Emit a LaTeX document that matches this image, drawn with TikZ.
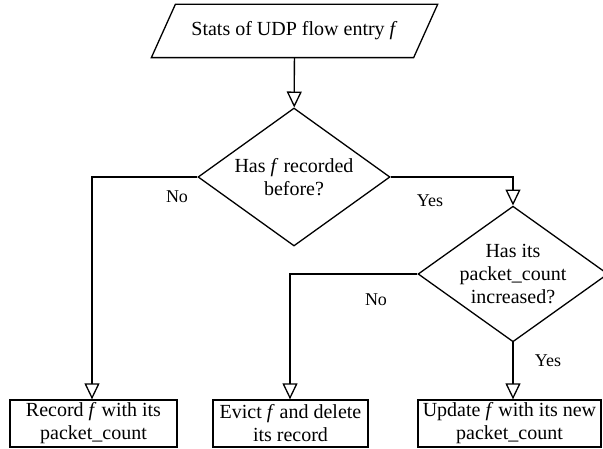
\documentclass[tikz,border=0pt]{standalone}
\usepackage{fontspec}
\setmainfont{Liberation Serif}
\usetikzlibrary{arrows.meta,shapes.geometric}

\tikzset{
  flowbox/.style={draw, line width=1.3pt, fill=white, align=center, inner sep=0pt},
  decision/.style={flowbox, diamond, aspect=1.4},
  answer/.style={font=\fontsize{18}{21}\selectfont, inner sep=0pt}
}

\begin{document}
\begin{tikzpicture}[ >={Triangle[open, length=16pt, width=15pt]}, x=1pt, y=-1pt,
  font=\fontsize{20}{23}\selectfont, line width=1.3pt ]

\useasboundingbox (0,0) rectangle (603,449);

% input (parallelogram drawn round the text node)
\node[inner sep=0pt, minimum width=261pt, minimum height=52pt] (stats) at (294.5,31)
  {Stats of UDP flow entry \textit{f}};
\draw ([xshift=-12pt]stats.south west) -- ([xshift=12pt]stats.north west)
  -- ([xshift=12pt]stats.north east) -- ([xshift=-12pt]stats.south east) -- cycle;

% decisions
\node[decision, minimum width=192pt, minimum height=138pt] (recorded) at (294,177)
  {Has \textit{f} recorded\\before?};
\node[decision, minimum width=180pt, minimum height=122pt] (increased) at (513,274)
  {Has its\\packet\_count\\increased?};

% actions
\node[flowbox, minimum width=167pt, minimum height=47pt] (record) at (93.5,423.5)
  {Record \textit{f} with its\\packet\_count};
\node[flowbox, minimum width=155pt, minimum height=47pt] (evict) at (290.5,423.5)
  {Evict \textit{f} and delete\\its record};
\node[flowbox, minimum width=183pt, minimum height=47pt] (update) at (509.5,423.5)
  {Update \textit{f} with its new\\packet\_count};

\coordinate (nobend) at (92,177);
\coordinate (yesbend) at (513,177);
\coordinate (evictbend) at (290,274);

\draw[->] (stats) -- (recorded);
\draw[->] (recorded.west) -- (nobend) -- (nobend |- record.north);
\draw[->] (recorded.east) -- (yesbend) -- (increased.north);
\draw[->] (increased.west) -- (evictbend) -- (evictbend |- evict.north);
\draw[->] (increased.south) -- (increased.south |- update.north);

\node[answer] (no1) at (177,197) {No};
\node[answer] (yes1) at (430,201) {Yes};
\node[answer] (no2) at (376,300) {No};
\node[answer] (yes2) at (548,361) {Yes};

\end{tikzpicture}
\end{document}
